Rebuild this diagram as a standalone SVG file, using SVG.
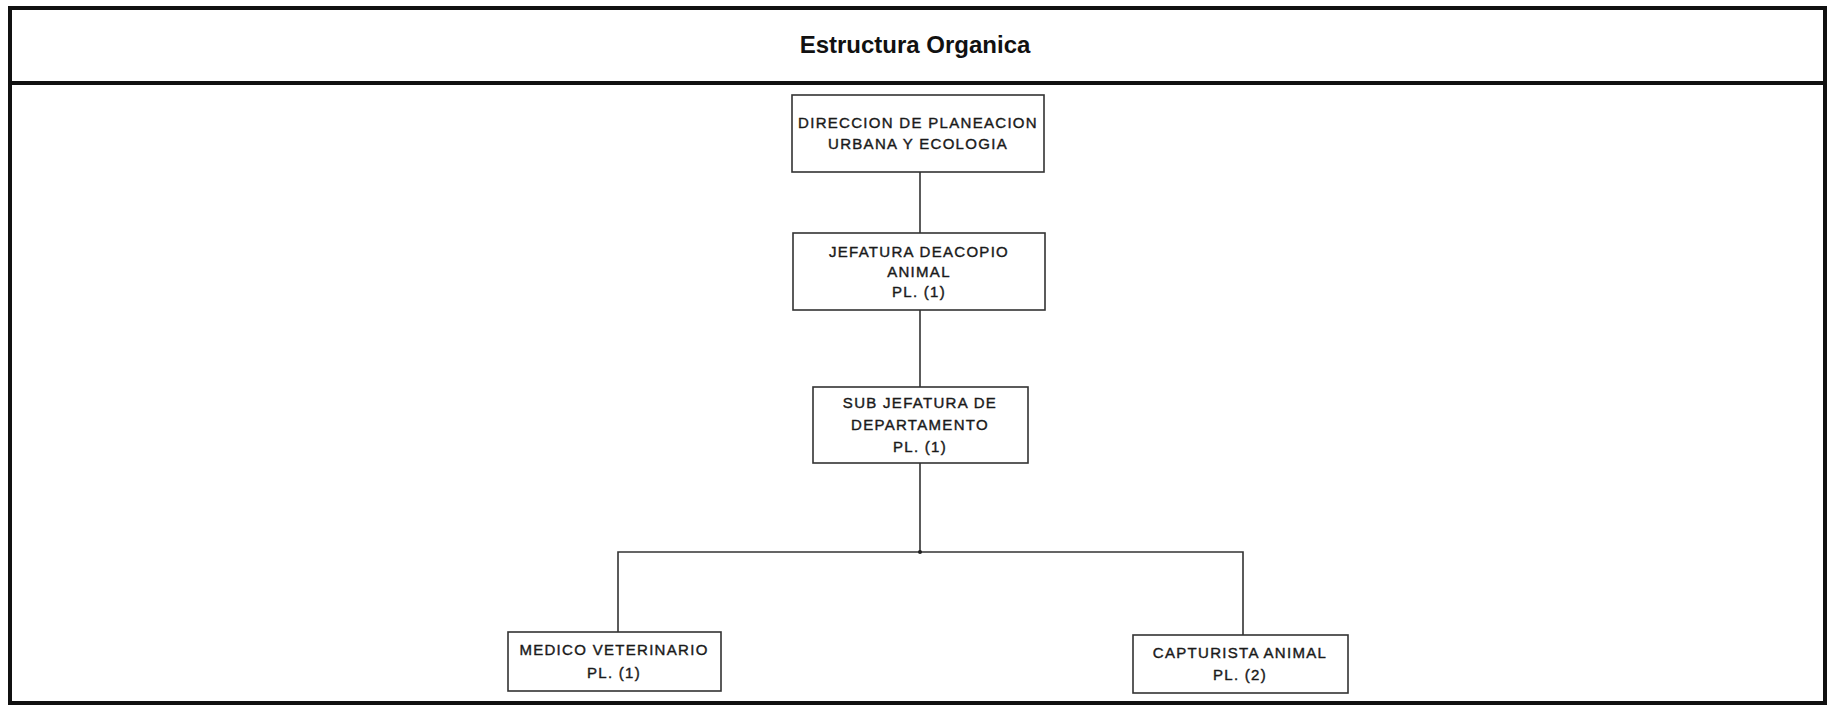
<svg xmlns="http://www.w3.org/2000/svg" width="1832" height="710" viewBox="0 0 1832 710">
<style>
.frame{fill:none;stroke:#111;stroke-width:4}
.box{fill:#fff;stroke:#333;stroke-width:1.6}
.conn{fill:none;stroke:#333;stroke-width:1.6}
.title{font-family:"Liberation Sans",Arial,sans-serif;font-weight:bold;font-size:24px;fill:#111;text-anchor:middle}
.lbl{font-family:"Liberation Sans",Arial,sans-serif;font-size:15px;letter-spacing:1.3px;fill:#1a1a1a;stroke:#1a1a1a;stroke-width:0.4;text-anchor:middle}
</style>
<rect width="1832" height="710" fill="#fff"/>
<g id="frame">
<rect class="frame" x="10" y="8" width="1815" height="695"/>
<line class="frame" x1="10" y1="83" x2="1825" y2="83"/>
<text class="title" x="915" y="53">Estructura Organica</text>
</g>
<g id="connectors">
<line class="conn" x1="920" y1="172" x2="920" y2="233"/>
<line class="conn" x1="920" y1="310" x2="920" y2="387"/>
<line class="conn" x1="920" y1="463" x2="920" y2="552"/>
<polyline class="conn" points="618,632 618,552 1243,552 1243,635"/>
<circle cx="920" cy="552" r="2" fill="#222"/>
</g>
<g id="n_direccion">
<rect class="box" x="792" y="95" width="252" height="77"/>
<text class="lbl" x="918" y="128">DIRECCION DE PLANEACION</text>
<text class="lbl" x="918" y="149">URBANA Y ECOLOGIA</text>
</g>
<g id="n_jefatura">
<rect class="box" x="793" y="233" width="252" height="77"/>
<text class="lbl" x="919" y="257">JEFATURA DEACOPIO</text>
<text class="lbl" x="919" y="277">ANIMAL</text>
<text class="lbl" x="919" y="297">PL. (1)</text>
</g>
<g id="n_subjefatura">
<rect class="box" x="813" y="387" width="215" height="76"/>
<text class="lbl" x="920" y="408">SUB JEFATURA DE</text>
<text class="lbl" x="920" y="430">DEPARTAMENTO</text>
<text class="lbl" x="920" y="452">PL. (1)</text>
</g>
<g id="n_medico">
<rect class="box" x="508" y="632" width="213" height="59"/>
<text class="lbl" x="614" y="655">MEDICO VETERINARIO</text>
<text class="lbl" x="614" y="678">PL. (1)</text>
</g>
<g id="n_capturista">
<rect class="box" x="1133" y="635" width="215" height="58"/>
<text class="lbl" x="1240" y="658">CAPTURISTA ANIMAL</text>
<text class="lbl" x="1240" y="680">PL. (2)</text>
</g>
</svg>
